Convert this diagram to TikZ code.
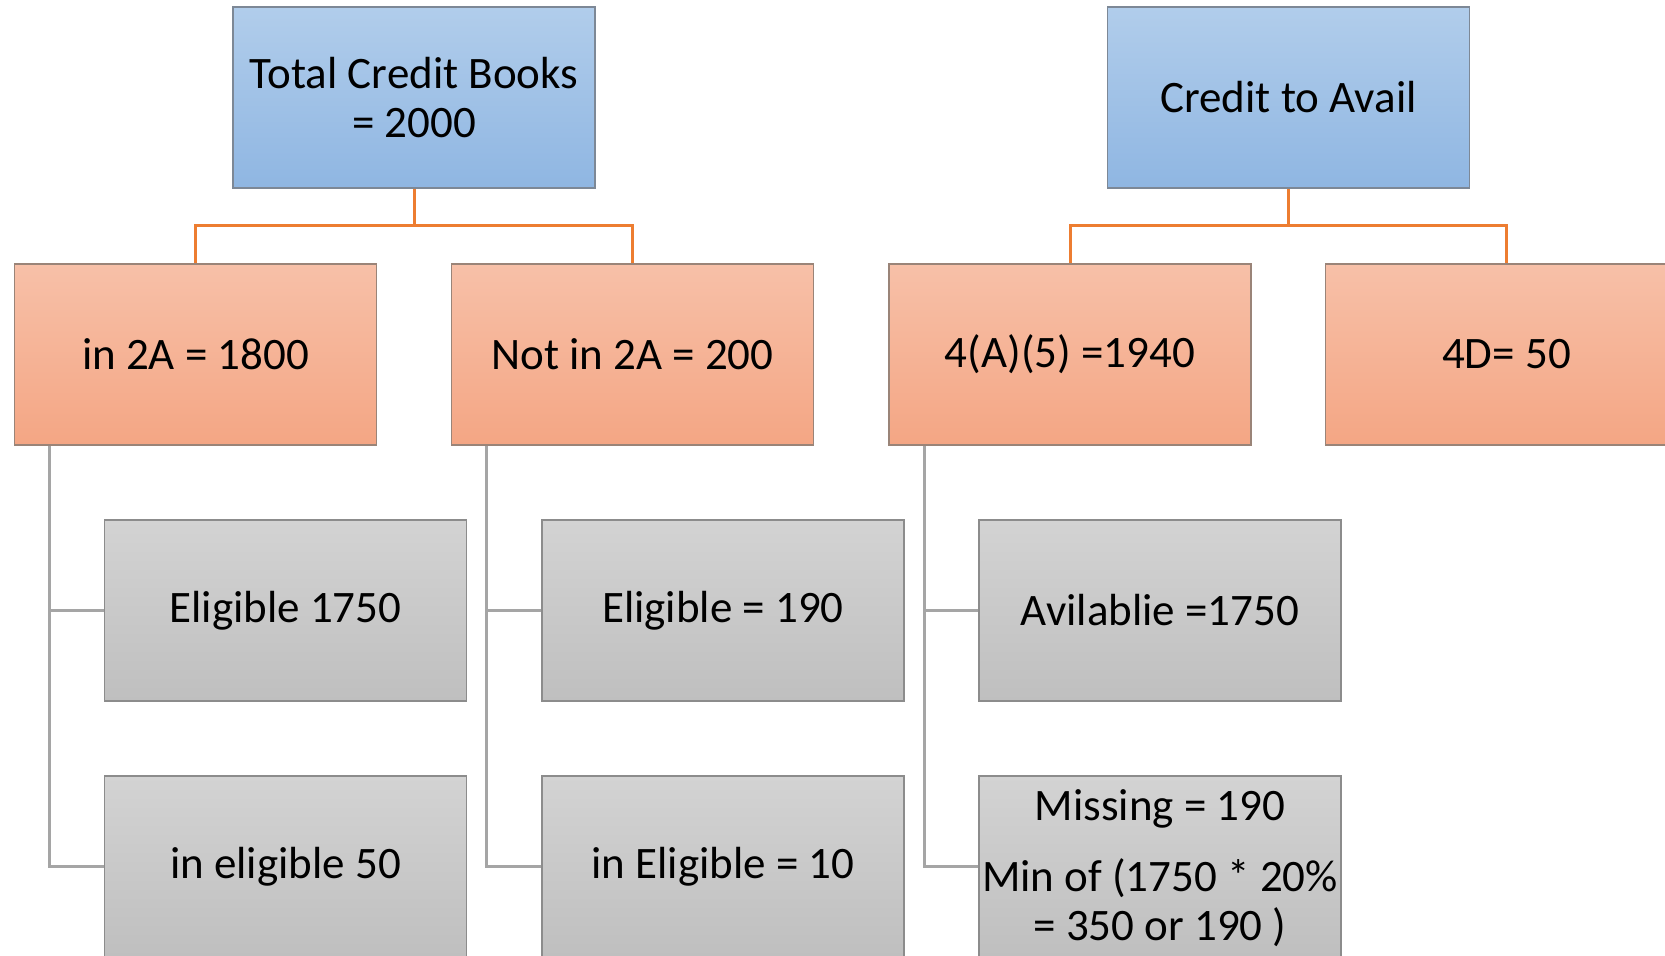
\documentclass[tikz,border=0pt]{standalone}
\usepackage{fontspec}
\setmainfont{Carlito}
\begin{document}
\begin{tikzpicture}[x=0.5pt,y=-0.5pt,
  box/.style={rectangle, minimum width=181pt, minimum height=90.5pt, inner sep=0pt,
    align=center, line width=0.8pt, font=\fontsize{22.5pt}{24.5pt}\selectfont},
  bluebox/.style={box, draw=boxblueedge, top color=blueTop, bottom color=blueBot},
  orangebox/.style={box, draw=boxorangeedge, top color=orangeTop, bottom color=orangeBot},
  greybox/.style={box, draw=boxgreyedge, top color=greyTop, bottom color=greyBot},
  oline/.style={draw=linkorange, line width=1.5pt},
  gline/.style={draw=linkgrey, line width=1.5pt}]
\definecolor{blueTop}{HTML}{B1CDEB}
\definecolor{blueBot}{HTML}{8FB6E2}
\definecolor{boxblueedge}{HTML}{7D8896}
\definecolor{orangeTop}{HTML}{F7C0A8}
\definecolor{orangeBot}{HTML}{F4A684}
\definecolor{boxorangeedge}{HTML}{9A8478}
\definecolor{greyTop}{HTML}{D3D3D3}
\definecolor{greyBot}{HTML}{BFBFBF}
\definecolor{boxgreyedge}{HTML}{8C8C8C}
\definecolor{linkorange}{HTML}{ED7D31}
\definecolor{linkgrey}{HTML}{A5A5A5}
\useasboundingbox (0,0) rectangle (1665,955);

% top level
\node[bluebox] (tcb) at (414,97.5) {Total Credit Books\\= 2000};
\node[bluebox] (cta) at (1288.5,97.5) {Credit to Avail};

% second level
\node[orangebox] (in2a) at (195.5,354.5) {in 2A = 1800};
\node[orangebox] (not2a) at (632.5,354.5) {Not in 2A = 200};
\node[orangebox] (a45) at (1070,354.5) {4(A)(5) =1940};
\node[orangebox] (d4) at (1506.5,354.5) {4D= 50};

% third level
\node[greybox] (e1750) at (285.5,610.5) {Eligible 1750};
\node[greybox] (ie50) at (285.5,866.5) {in eligible 50};
\node[greybox] (e190) at (723,610.5) {Eligible = 190};
\node[greybox] (ie10) at (723,866.5) {in Eligible = 10};
\node[greybox] (av1750) at (1160,610.5) {Avilablie =1750};
\node[greybox] (miss) at (1160,866.5) {\raisebox{0pt}[0pt][0pt]{}\\[-7.5pt]Missing = 190\\[11pt]Min of (1750 * 20\%\\= 350 or 190 )};

% orange links
\draw[oline] (tcb.south) -- (tcb.south |- 0,225) -| (in2a.north);
\draw[oline] (tcb.south) -- (tcb.south |- 0,225) -| (not2a.north);
\draw[oline] (cta.south) -- (cta.south |- 0,225) -| (a45.north);
\draw[oline] (cta.south) -- (cta.south |- 0,225) -| (d4.north);

% grey links
\draw[gline] ([xshift=18pt]in2a.south west) |- (e1750.west);
\draw[gline] ([xshift=18pt]in2a.south west) |- (ie50.west);
\draw[gline] ([xshift=18pt]not2a.south west) |- (e190.west);
\draw[gline] ([xshift=18pt]not2a.south west) |- (ie10.west);
\draw[gline] ([xshift=18pt]a45.south west) |- (av1750.west);
\draw[gline] ([xshift=18pt]a45.south west) |- (miss.west);
\end{tikzpicture}
\end{document}
